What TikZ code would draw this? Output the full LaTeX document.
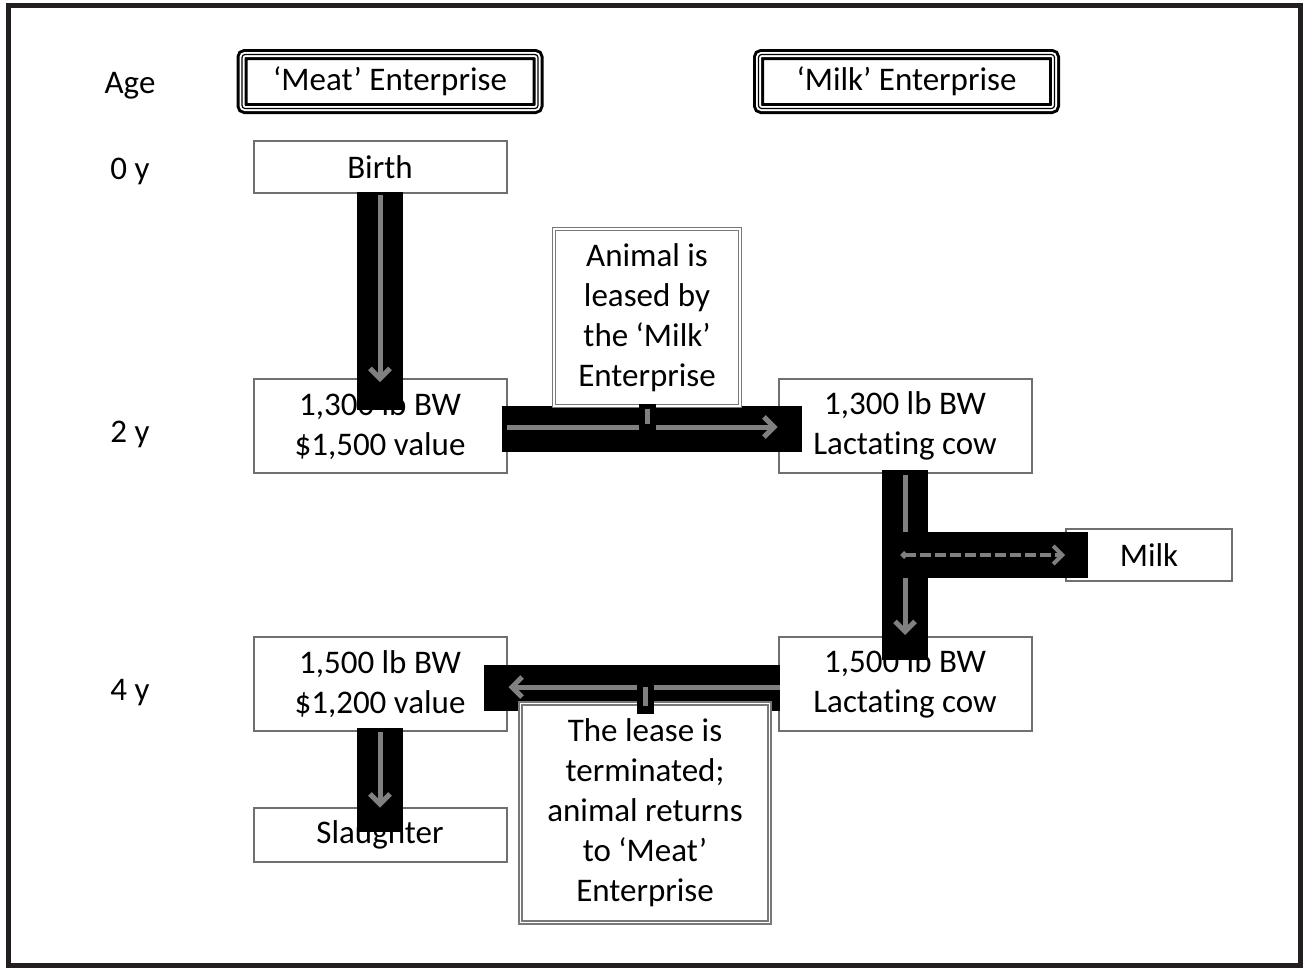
\documentclass[tikz,border=0pt]{standalone}
\usepackage{fontspec}
\setmainfont{Carlito}[Ligatures=TeX, RawFeature={-liga;-clig;-calt}]
\usepackage{tikz}
\usetikzlibrary{arrows.meta, positioning, calc}
\definecolor{FrameLine}{RGB}{35,31,32}
\definecolor{BoxLine}{RGB}{112,112,112}
\definecolor{ArrowGray}{RGB}{128,128,128}
\definecolor{CalloutLine}{RGB}{120,120,120}
\newcommand{\bodyfont}{\fontsize{33}{40}\selectfont}
\newcommand{\darkband}[4]{% from, to, extend start, extend end
    \draw[band, shorten <=-#3, shorten >=-#4] (#1) -- (#2);
}

\begin{document}
\begin{tikzpicture}[
    x=1pt, y=-1pt,
    every node/.style={font=\bodyfont, inner sep=0pt, outer sep=0pt},
    box/.style={draw=BoxLine, line width=2pt, fill=white, align=center,
        minimum width=253pt},
    hdr/.style={draw=black, line width=1.2pt, rounded corners=3pt, align=center,
        minimum width=296pt, minimum height=54pt,
        preaction={draw=black, line width=3pt, double=white, double distance=5pt}},
    callout/.style={draw=CalloutLine, line width=1.5pt, double=white,
        double distance=1.5pt, fill=white, align=center},
    band/.style={draw=black, line width=46pt},
    flow/.style={draw=ArrowGray, line width=5pt,
        -{Straight Barb[length=10pt, width=20pt]}},
    milkflow/.style={draw=ArrowGray, line width=4pt, dash pattern=on 11pt off 4pt,
        {Diamond[length=8pt, width=8pt]}-{Straight Barb[length=9pt, width=18pt]}},
    stembg/.style={draw=black, line width=17pt},
    stem/.style={draw=ArrowGray, line width=5pt}
]
\useasboundingbox (0,0) rectangle (1303,967);
\draw[FrameLine, line width=5pt] (8,5) rectangle (1300,965);

% ===================================================================
% HEADINGS AND AGE COLUMN
% ===================================================================
\node[anchor=base] (age) at (130,93) {Age};
\node[hdr] (meat) at (390,81.5) {‘Meat’ Enterprise};
\node[hdr] (milkhdr) at (906.5,81.5) {‘Milk’ Enterprise};

\node[anchor=base] (yr0) at (130,179) {0 y};
\node[anchor=base] (yr2) at (130,442) {2 y};
\node[anchor=base] (yr4) at (130,700) {4 y};

% ===================================================================
% STAGES
% ===================================================================
\node[box, minimum height=52pt] (birth) at (380,167) {Birth};
\node[box, minimum height=94pt] (bw1300) at (380,426) {1,300 lb BW\\\$1,500 value};
\node[box, minimum height=94pt] (cow1300) at (905,426) {1,300 lb BW\\Lactating cow};
\node[box, minimum width=166pt, minimum height=52pt] (milk) at (1149,555) {Milk};
\node[box, minimum height=94pt] (cow1500) at (905,684) {1,500 lb BW\\Lactating cow};
\node[box, minimum height=94pt] (bw1500) at (380,684) {1,500 lb BW\\\$1,200 value};
\node[box, minimum height=54pt] (slaughter) at (380,834.5) {Slaughter};

% ===================================================================
% FLOWS (black band, grey arrow on top)
% ===================================================================
\darkband{birth.south}{bw1300.north}{1pt}{31pt}
\draw[flow, shorten <=2pt, shorten >=-3pt] (birth.south) -- (bw1300.north);

\darkband{[yshift=-3pt]bw1300.east}{[yshift=-3pt]cow1300.west}{5pt}{23pt}
\draw[flow, shorten >=1pt] ([yshift=-1pt]bw1300.east) -- ([yshift=-1pt]cow1300.west);

\darkband{cow1300.south}{cow1500.north}{3pt}{23pt}
\draw[flow, shorten <=2pt, shorten >=2pt] (cow1300.south) -- (cow1500.north);

% Milk branch
\coordinate (split) at (cow1300.south |- milk.west);
\darkband{split}{milk.west}{23pt}{22pt}
\draw[milkflow, shorten <=-5pt, shorten >=1pt] (split) -- (milk.west);

\darkband{[yshift=-3.5pt]cow1500.west}{[yshift=-3.5pt]bw1500.east}{1pt}{23pt}
\draw[flow, shorten <=-1pt, shorten >=2pt] ([yshift=-3pt]cow1500.west) -- ([yshift=-3pt]bw1500.east);

\darkband{bw1500.south}{slaughter.north}{3pt}{24pt}
\draw[flow, shorten <=1pt] (bw1500.south) -- (slaughter.north);

% ===================================================================
% LEASE CALLOUTS
% ===================================================================
\node[callout, minimum width=186pt, minimum height=177pt] (lease) at (647,317.5)
    {Animal is\\leased by\\the ‘Milk’\\Enterprise};
\node[callout, minimum width=249pt, minimum height=219pt] (endlease) at (645,813)
    {The lease is\\terminated;\\animal returns\\to ‘Meat’\\Enterprise};

\coordinate (leasefoot) at ([yshift=-1pt]lease.south |- bw1300.east);
\draw[stembg, shorten <=-2pt, shorten >=-3pt] (lease.south) -- (leasefoot);
\draw[stem, shorten <=3pt, shorten >=3pt] (lease.south) -- (leasefoot);

\coordinate (returnfoot) at ([yshift=-3pt]endlease.north |- bw1500.east);
\draw[stembg, shorten <=-10pt, shorten >=-4pt] (endlease.north) -- (returnfoot);
\draw[stem, shorten <=-2pt] (endlease.north) -- (returnfoot);

\end{tikzpicture}
\end{document}
